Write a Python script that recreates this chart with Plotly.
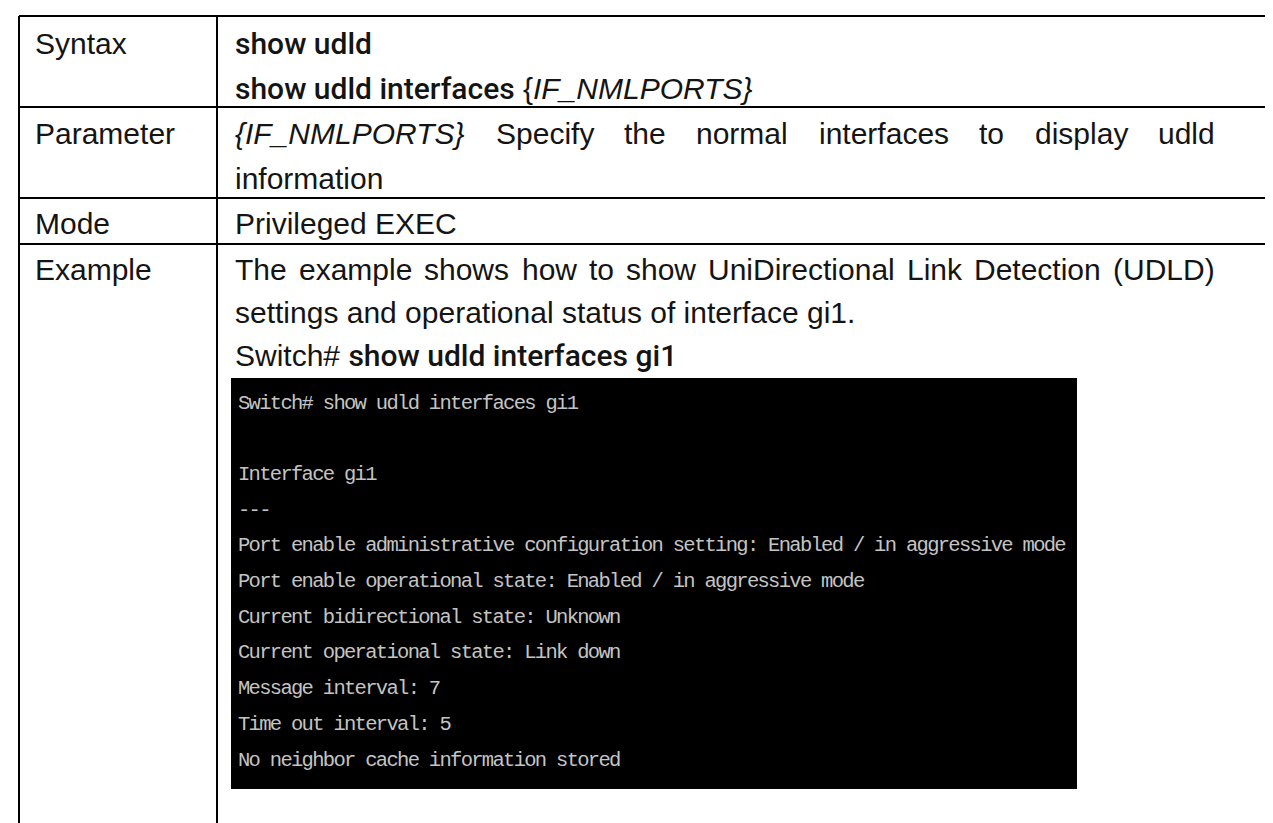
import plotly.graph_objects as go

W, H = 1273, 823

# ---------------- content ----------------
B = '<span style="font-family:Roboto;font-weight:500">'
E = "</span>"
row_labels = ["Syntax", "Parameter", "Mode", "Example"]
syntax_lines = [B + "show udld" + E,
                B + "show udld interfaces" + E + " {<i>IF_NMLPORTS}</i>"]
param_words = ["{IF_NMLPORTS}", "Specify", "the", "normal", "interfaces", "to", "display", "udld"]
param_italic = [True, False, False, False, False, False, False, False]
param_tail = "information"
mode_text = "Privileged EXEC"
example_words = "The example shows how to show UniDirectional Link Detection (UDLD)".split()
example_line2 = "settings and operational status of interface gi1."
example_line3 = "Switch# " + B + "show udld interfaces gi1" + E
terminal_lines = [
    "Switch# show udld interfaces gi1",
    "",
    "Interface gi1",
    "---",
    "Port enable administrative configuration setting: Enabled / in aggressive mode",
    "Port enable operational state: Enabled / in aggressive mode",
    "Current bidirectional state: Unknown",
    "Current operational state: Link down",
    "Message interval: 7",
    "Time out interval: 5",
    "No neighbor cache information stored",
]

# ---------------- layout geometry ----------------
X_LEFT, X_DIV, X_RIGHT = 11, 209, W
Y_TOP = 8
ROW_LINES = [99, 190, 236]
LABEL_X = 25
TEXT_X = 225
JUST_END = 1205
FS = 30
FONT = "Liberation Sans, Arial, sans-serif"
MONO = "Liberation Mono, Courier New, monospace"
BOX = (223, 370, 1069, 781)
TERM_X = 228
TERM_Y0 = 395
TERM_DY = 35.7
TERM_FS = 20.5
TERM_LS = '<span style="letter-spacing:-1.7px">'

# Arial-compatible advance widths (per 1000 em)
AW = dict(zip("abcdefghijklmnopqrstuvwxyz",
              [556, 556, 500, 556, 556, 278, 556, 556, 222, 222, 500, 222, 833,
               556, 556, 556, 556, 333, 500, 278, 556, 500, 722, 500, 500, 500]))
AW.update(zip("ABCDEFGHIJKLMNOPQRSTUVWXYZ",
              [667, 667, 722, 722, 667, 611, 778, 722, 278, 500, 667, 556, 833,
               722, 778, 667, 778, 722, 667, 611, 722, 667, 944, 667, 667, 611]))
AW.update({"(": 333, ")": 333, "{": 334, "}": 334, "_": 556, ".": 278, " ": 278, "#": 556})


def wwidth(s, fs=FS):
    return sum(AW.get(c, 556) for c in s) * fs / 1000.0


def justified(words, x0, x1):
    widths = [wwidth(w) for w in words]
    gap = (x1 - x0 - sum(widths)) / (len(words) - 1)
    xs, x = [], x0
    for w in widths:
        xs.append(x)
        x += w + gap
    return xs


fig = go.Figure()
fig.add_trace(go.Scatter(x=[0, W], y=[0, H], mode="markers",
                         marker=dict(opacity=0), hoverinfo="skip", showlegend=False))

shapes = []
line = dict(color="#000000", width=2)
shapes.append(dict(type="line", x0=X_LEFT, x1=X_RIGHT, y0=Y_TOP, y1=Y_TOP, line=line))
for y in ROW_LINES:
    shapes.append(dict(type="line", x0=X_LEFT, x1=X_RIGHT, y0=y, y1=y, line=line))
shapes.append(dict(type="line", x0=X_LEFT, x1=X_LEFT, y0=Y_TOP, y1=H + 5, line=line))
shapes.append(dict(type="line", x0=X_DIV, x1=X_DIV, y0=Y_TOP, y1=H + 5, line=line))
shapes.append(dict(type="rect", x0=BOX[0], y0=BOX[1], x1=BOX[2], y1=BOX[3],
                   fillcolor="#000000", line=dict(width=0)))

ann = []


def text(x, yc, s, font=FONT, size=FS, color="#141414"):
    ann.append(dict(x=x, y=yc, xref="x", yref="y", text=s, showarrow=False,
                    xanchor="left", yanchor="middle",
                    font=dict(family=font, size=size, color=color)))


# centres of text lines
ROW1 = [35, 80]
ROW2 = [125, 170]
ROW3 = [215]
ROW4 = [261, 304, 347]

text(LABEL_X, ROW1[0], row_labels[0])
text(LABEL_X, ROW2[0], row_labels[1])
text(LABEL_X, ROW3[0], row_labels[2])
text(LABEL_X, ROW4[0], row_labels[3])

for yc, s in zip(ROW1, syntax_lines):
    text(TEXT_X, yc, s)

for x, w, it in zip(justified(param_words, TEXT_X, JUST_END), param_words, param_italic):
    text(x, ROW2[0], f"<i>{w}</i>" if it else w)
text(TEXT_X, ROW2[1], param_tail)

text(TEXT_X, ROW3[0], mode_text)

for x, w in zip(justified(example_words, TEXT_X, JUST_END), example_words):
    text(x, ROW4[0], w)
text(TEXT_X, ROW4[1], example_line2)
text(TEXT_X, ROW4[2], example_line3)

for i, s in enumerate(terminal_lines):
    if s:
        text(TERM_X, TERM_Y0 + TERM_DY * i, TERM_LS + s.replace(" ", "\u00a0") + E,
             font=MONO, size=TERM_FS, color="#c4c4c4")

fig.update_layout(
    width=W, height=H,
    margin=dict(l=0, r=0, t=0, b=0),
    paper_bgcolor="white", plot_bgcolor="white",
    xaxis=dict(range=[0, W], visible=False, fixedrange=True),
    yaxis=dict(range=[H, 0], visible=False, fixedrange=True),
    shapes=shapes, annotations=ann, showlegend=False,
)
fig.write_html("out.html", config={"displayModeBar": False})
